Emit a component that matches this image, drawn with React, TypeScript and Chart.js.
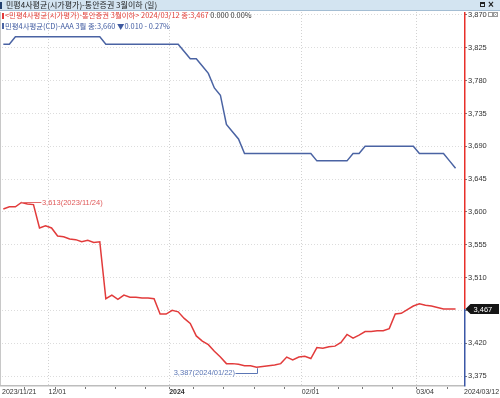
import React, { useEffect, useRef } from "react";
import { Chart, registerables } from "chart.js";

Chart.register(...registerables);

const FONT = "'Liberation Sans', Arial, sans-serif";
const KFONT = "'Noto Sans CJK KR', 'Liberation Sans', sans-serif";

const titleText = "민평4사평균(시가평가)-통안증권 3월이하 (일)";
const redName = "<민평4사평균(시가평가)-통안증권 3월이하>";
const blueName = "민평4사평균(CD)-AAA 3월";

const dates = [
  "2023/11/21", "2023/11/22", "2023/11/23", "2023/11/24", "2023/11/27", "2023/11/28", "2023/11/29", "2023/11/30",
  "2023/12/01", "2023/12/04", "2023/12/05", "2023/12/06", "2023/12/07", "2023/12/08", "2023/12/11", "2023/12/12",
  "2023/12/13", "2023/12/14", "2023/12/15", "2023/12/18", "2023/12/19", "2023/12/20", "2023/12/21", "2023/12/22",
  "2023/12/26", "2023/12/27", "2023/12/28", "2023/12/29",
  "2024/01/02", "2024/01/03", "2024/01/04", "2024/01/05", "2024/01/08", "2024/01/09", "2024/01/10", "2024/01/11",
  "2024/01/12", "2024/01/15", "2024/01/16", "2024/01/17", "2024/01/18", "2024/01/19", "2024/01/22", "2024/01/23",
  "2024/01/24", "2024/01/25", "2024/01/26", "2024/01/29", "2024/01/30", "2024/01/31",
  "2024/02/01", "2024/02/02", "2024/02/05", "2024/02/06", "2024/02/07", "2024/02/08", "2024/02/13", "2024/02/14",
  "2024/02/15", "2024/02/16", "2024/02/19", "2024/02/20", "2024/02/21", "2024/02/22", "2024/02/23", "2024/02/26",
  "2024/02/27", "2024/02/28", "2024/02/29",
  "2024/03/04", "2024/03/05", "2024/03/06", "2024/03/07", "2024/03/08", "2024/03/11", "2024/03/12",
];

const redValues = [
  3604, 3607, 3607, 3613, 3611, 3610, 3578, 3581, 3578, 3567,
  3566, 3563, 3562, 3559, 3561, 3558, 3559, 3481, 3486, 3480,
  3486, 3483, 3483, 3482, 3482, 3481, 3460, 3460, 3465, 3463,
  3454, 3447, 3430, 3423, 3418, 3409, 3401, 3392, 3392, 3391,
  3389, 3389, 3387, 3388, 3389, 3390, 3392, 3401, 3397, 3401,
  3402, 3399, 3414, 3413, 3415, 3416, 3421, 3432, 3427, 3431,
  3436, 3436, 3437, 3437, 3440, 3460, 3461, 3466, 3471, 3474,
  3472, 3471, 3469, 3467, 3467, 3467,
];

const blueValues = [
  3830, 3830, 3840, 3840, 3840, 3840, 3840, 3840, 3840, 3840,
  3840, 3840, 3840, 3840, 3840, 3840, 3840, 3830, 3830, 3830,
  3830, 3830, 3830, 3830, 3830, 3830, 3830, 3830, 3830, 3830,
  3820, 3810, 3810, 3800, 3790, 3770, 3760, 3720, 3710, 3700,
  3680, 3680, 3680, 3680, 3680, 3680, 3680, 3680, 3680, 3680,
  3680, 3680, 3670, 3670, 3670, 3670, 3670, 3670, 3680, 3680,
  3690, 3690, 3690, 3690, 3690, 3690, 3690, 3690, 3690, 3680,
  3680, 3680, 3680, 3680, 3670, 3660,
];

const yTicks = [3375, 3420, 3465, 3510, 3555, 3600, 3645, 3690, 3735, 3780, 3825, 3870];
const yMin = 3362.7;
const yMax = 3874.1;
const xMin = -0.22;
const xMax = 76.4;

const monthTickDates = ["2023/12/01", "2024/01/02", "2024/02/01", "2024/03/04"];
const monthTickLabels = ["12/01", "2024", "02/01", "03/04"];

const RED = "#e23b3b";
const BLUE = "#4a63a3";

const fmt = (v: number) => Math.round(v).toLocaleString("en-US");

const xTickValues = [xMin, ...monthTickDates.map((d) => dates.indexOf(d) - 0.5), xMax];
const xTickLabels = [dates[0], ...monthTickLabels, dates[dates.length - 1]];
const boldIndex = xTickLabels.indexOf("2024");

const weekTickPositions: number[] = [];
for (let i = 1; i < dates.length; i++) {
  const a = new Date(dates[i - 1]).getDay();
  const b = new Date(dates[i]).getDay();
  if (b < a) weekTickPositions.push(i - 0.5);
}

function changeText(vals: number[]) {
  const n = vals.length;
  const diff = vals[n - 1] - vals[n - 2];
  const c = Math.abs(diff) / 1000;
  const p = (Math.abs(diff) / vals[n - 2]) * 100;
  if (diff === 0) return `${c.toFixed(3)} ${p.toFixed(2)}%`;
  return diff < 0 ? `▼${c.toFixed(3)} - ${p.toFixed(2)}%` : `▲${c.toFixed(3)} + ${p.toFixed(2)}%`;
}

const overlayPlugin = {
  id: "overlay",
  beforeDraw(chart: any) {
    const { ctx, width, height } = chart;
    ctx.save();
    ctx.fillStyle = "#ffffff";
    ctx.fillRect(0, 0, width, height);
    ctx.restore();
  },
  afterDraw(chart: any) {
    const { ctx, chartArea: ca } = chart;
    const xs = chart.scales.x;
    const ys = chart.scales.y;
    const n = redValues.length;
    const lastY = ys.getPixelForValue(redValues[n - 1]);
    ctx.save();
    // left border
    ctx.strokeStyle = "#c8c8c8";
    ctx.lineWidth = 1;
    ctx.beginPath();
    ctx.moveTo(0.5, ca.top);
    ctx.lineTo(0.5, ca.bottom);
    ctx.stroke();
    // bottom axis
    ctx.strokeStyle = "#bdbdbd";
    ctx.lineWidth = 1.5;
    ctx.beginPath();
    ctx.moveTo(0, ca.bottom + 0.75);
    ctx.lineTo(ca.right, ca.bottom + 0.75);
    ctx.stroke();
    // weekly minor ticks
    ctx.strokeStyle = "#777";
    ctx.lineWidth = 1;
    weekTickPositions.forEach((p) => {
      const px = Math.round(xs.getPixelForValue(p)) + 0.5;
      ctx.beginPath();
      ctx.moveTo(px, ca.bottom + 2);
      ctx.lineTo(px, ca.bottom + 4);
      ctx.stroke();
    });
    // right axis (red above current value, blue below)
    const ax = ca.right + 0.75;
    ctx.lineWidth = 1.5;
    ctx.strokeStyle = "#e8302a";
    ctx.beginPath();
    ctx.moveTo(ax, ca.top);
    ctx.lineTo(ax, lastY);
    ctx.stroke();
    ctx.strokeStyle = "#3b57a6";
    ctx.beginPath();
    ctx.moveTo(ax, lastY);
    ctx.lineTo(ax, ca.bottom + 1.5);
    ctx.stroke();

    // peak / trough annotations
    let iMax = 0;
    let iMin = 0;
    redValues.forEach((v, i) => {
      if (v > redValues[iMax]) iMax = i;
      if (v < redValues[iMin]) iMin = i;
    });
    ctx.font = `7.5px ${FONT}`;
    ctx.textBaseline = "middle";
    {
      const px = xs.getPixelForValue(iMax);
      const py = Math.round(ys.getPixelForValue(redValues[iMax])) + 0.5;
      ctx.strokeStyle = "#e36b6b";
      ctx.fillStyle = "#e05a5a";
      ctx.lineWidth = 1;
      ctx.beginPath();
      ctx.moveTo(px, py);
      ctx.lineTo(px + 20, py);
      ctx.stroke();
      ctx.textAlign = "left";
      ctx.fillText(`${fmt(redValues[iMax])}(${dates[iMax]})`, px + 20.5, py);
    }
    {
      const px = Math.round(xs.getPixelForValue(iMin)) + 0.5;
      const py = ys.getPixelForValue(redValues[iMin]);
      const ly = Math.round(py + 5.5) + 0.5;
      ctx.strokeStyle = "#5b76b5";
      ctx.fillStyle = "#5b76b5";
      ctx.lineWidth = 1;
      ctx.beginPath();
      ctx.moveTo(px, py + 1);
      ctx.lineTo(px, ly);
      ctx.lineTo(px - 22, ly);
      ctx.stroke();
      ctx.textAlign = "right";
      ctx.fillText(`${fmt(redValues[iMin])}(${dates[iMin]})`, px - 22.5, ly - 0.5);
    }

    // current value box
    const bx = ca.right + 1.5;
    const by = Math.round(lastY);
    ctx.fillStyle = "#151515";
    ctx.beginPath();
    ctx.moveTo(bx, by);
    ctx.lineTo(bx + 5, by - 5);
    ctx.lineTo(499, by - 5);
    ctx.lineTo(499, by + 5);
    ctx.lineTo(bx + 5, by + 5);
    ctx.closePath();
    ctx.fill();
    ctx.fillStyle = "#ffffff";
    ctx.textAlign = "left";
    ctx.font = `7.5px ${FONT}`;
    ctx.fillText(fmt(redValues[n - 1]), bx + 8, by + 0.5);

    // tiny icons next to top tick
    const ty = Math.round(ys.getPixelForValue(yTicks[yTicks.length - 1]));
    ctx.strokeStyle = "#9a9a9a";
    ctx.lineWidth = 1;
    ctx.strokeRect(488.5, ty - 2.5, 4, 4);
    ctx.strokeRect(493.5, ty - 2.5, 4, 4);
    ctx.beginPath();
    ctx.moveTo(494.5, ty - 1.5);
    ctx.lineTo(496.5, ty + 0.5);
    ctx.moveTo(496.5, ty - 1.5);
    ctx.lineTo(494.5, ty + 0.5);
    ctx.stroke();
    ctx.restore();
  },
};

export default function App() {
  const canvasRef = useRef<HTMLCanvasElement | null>(null);

  useEffect(() => {
    if (!canvasRef.current) return;
    const chart = new Chart(canvasRef.current, {
      type: "line",
      data: {
        datasets: [
          {
            label: blueName,
            data: blueValues.map((v, i) => ({ x: i, y: v })),
            borderColor: BLUE,
            borderWidth: 1.5,
            pointRadius: 0,
            tension: 0,
            fill: false,
          },
          {
            label: redName,
            data: redValues.map((v, i) => ({ x: i, y: v })),
            borderColor: RED,
            borderWidth: 1.5,
            pointRadius: 0,
            tension: 0,
            fill: false,
          },
        ],
      },
      options: {
        animation: false,
        responsive: false,
        devicePixelRatio: 1,
        layout: { padding: { left: 2, top: 12, right: 0, bottom: 0 } },
        plugins: {
          legend: { display: false },
          tooltip: { enabled: false },
          title: { display: false },
        },
        scales: {
          x: {
            type: "linear",
            position: "bottom",
            min: xMin,
            max: xMax,
            afterBuildTicks: (s: any) => {
              s.ticks = xTickValues.map((v) => ({ value: v }));
            },
            afterFit: (s: any) => {
              s.height = 13;
              s.paddingLeft = 0;
              s.paddingRight = 0;
            },
            ticks: {
              autoSkip: false,
              maxRotation: 0,
              minRotation: 0,
              align: "start",
              padding: 3,
              color: "#333",
              font: (c: any) => ({ family: FONT, size: 7, weight: c.index === boldIndex ? "bold" : "normal" }),
              callback: (_v: any, i: number) => xTickLabels[i],
            },
            grid: {
              drawTicks: false,
              lineWidth: 1,
              color: (c: any) =>
                c.index === 0 || c.index === xTickValues.length - 1 ? "rgba(0,0,0,0)" : "#d2d2d2",
            },
            border: { display: false, dash: [1, 2] },
          },
          y: {
            type: "linear",
            position: "right",
            min: yMin,
            max: yMax,
            afterBuildTicks: (s: any) => {
              s.ticks = yTicks.map((v) => ({ value: v }));
            },
            afterFit: (s: any) => {
              s.width = 36;
              s.paddingTop = 0;
              s.paddingBottom = 0;
            },
            ticks: {
              autoSkip: false,
              padding: 1,
              color: "#333",
              font: { family: FONT, size: 7.5 },
              callback: (v: any) => fmt(Number(v)),
            },
            grid: { color: "#dcdcdc", tickColor: "#777", tickLength: 3, drawTicks: true, lineWidth: 1 },
            border: { display: false, dash: [1, 2] },
          },
        },
      } as any,
      plugins: [overlayPlugin],
    });
    return () => chart.destroy();
  }, []);

  const n = redValues.length;
  const redLegend = `${redName} ${dates[n - 1]} 종:${fmt(redValues[n - 1])}`;
  const blueLegend = `${blueName} 종:${fmt(blueValues[n - 1])} ${changeText(blueValues)}`;

  const legendLine: React.CSSProperties = {
    position: "absolute",
    left: 2,
    height: 10,
    lineHeight: "10px",
    fontSize: 7.4,
    fontFamily: KFONT,
    whiteSpace: "nowrap",
  };
  const marker = (color: string): React.CSSProperties => ({
    display: "inline-block",
    width: 2,
    height: 6,
    background: color,
    marginRight: 1,
    verticalAlign: "-0.5px",
  });

  return (
    <div
      style={{
        position: "fixed",
        left: 0,
        top: 0,
        width: 500,
        height: 398,
        background: "#fff",
        overflow: "hidden",
      }}
    >
      <canvas ref={canvasRef} width={500} height={398} style={{ position: "absolute", left: 0, top: 0 }} />
      <div
        style={{
          position: "absolute",
          left: 0,
          top: 0,
          width: 500,
          height: 11,
          boxSizing: "border-box",
          background: "#d3e4f1",
          borderBottom: "1px solid #a3bdd3",
        }}
      >
        <div style={{ position: "absolute", left: 0, top: 2, width: 2, height: 7, background: "#22406f" }} />
        <div
          style={{
            position: "absolute",
            left: 6,
            top: 0,
            lineHeight: "10px",
            fontSize: 8,
            fontFamily: KFONT,
            color: "#1b1b1b",
            whiteSpace: "nowrap",
          }}
        >
          {titleText}
        </div>
        <div
          style={{
            position: "absolute",
            left: 480,
            top: 2,
            width: 5,
            height: 5,
            boxSizing: "border-box",
            border: "1px solid #222",
            borderTopWidth: 2,
          }}
        />
        <div
          style={{
            position: "absolute",
            left: 488,
            top: 0,
            lineHeight: "10px",
            fontSize: 10,
            fontWeight: "bold",
            fontFamily: FONT,
            color: "#222",
          }}
        >
          ×
        </div>
      </div>
      <div style={{ ...legendLine, top: 10 }}>
        <span style={marker(RED)} />
        <span style={{ color: "#e2403a" }}>{redLegend}</span>
        <span style={{ color: "#333" }}>{"  " + changeText(redValues)}</span>
      </div>
      <div style={{ ...legendLine, top: 20.5 }}>
        <span style={marker(BLUE)} />
        <span style={{ color: "#3f5aa0" }}>{blueLegend}</span>
      </div>
    </div>
  );
}
